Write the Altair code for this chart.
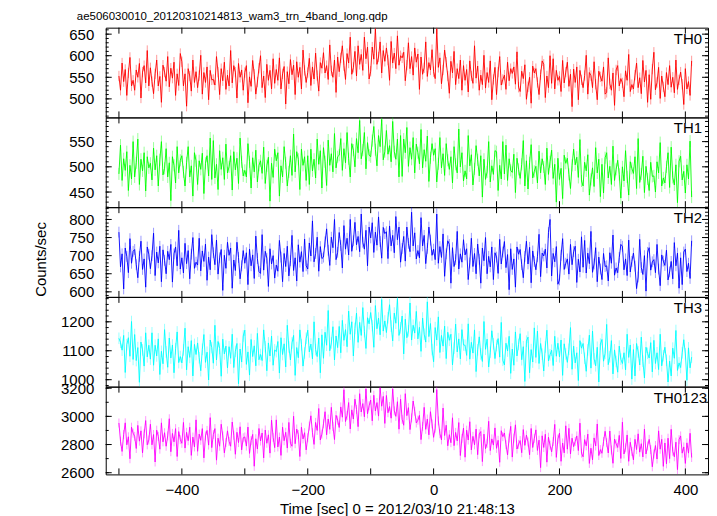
import altair as alt
import pandas as pd

# ---------------- data (2.5 s bins) ----------------
TIME = [-500 + 2.5 * k for k in range(365)]

TH0 = [
    553, 520, 583, 540, 568, 508, 560, 596, 530, 543,
    520, 567, 550, 582, 502, 562, 577, 537, 612, 530,
    572, 540, 512, 558, 590, 530, 552, 492, 578, 562,
    541, 598, 528, 571, 548, 585, 508, 558, 531, 605,
    586, 530, 558, 483, 570, 553, 518, 590, 538, 563,
    526, 554, 601, 511, 561, 538, 574, 498, 566, 544,
    545, 532, 598, 562, 510, 570, 542, 585, 522, 555,
    530, 612, 537, 577, 562, 502, 582, 550, 567, 520,
    561, 577, 491, 551, 529, 589, 557, 511, 539, 571,
    600, 526, 553, 503, 580, 543, 566, 523, 593, 536,
    568, 543, 595, 523, 558, 575, 488, 563, 535, 591,
    556, 578, 510, 586, 550, 573, 523, 613, 566, 538,
    561, 594, 531, 574, 546, 606, 554, 518, 584, 571,
    607, 560, 577, 545, 625, 565, 550, 590, 515, 597,
    563, 595, 623, 577, 545, 605, 583, 643, 557, 573,
    610, 553, 623, 580, 603, 566, 643, 593, 620, 546,
    564, 620, 592, 662, 580, 597, 632, 560, 612, 587,
    618, 590, 543, 633, 583, 606, 570, 646, 578, 600,
    595, 608, 542, 578, 630, 570, 598, 555, 618, 585,
    604, 522, 597, 557, 572, 632, 552, 584, 567, 614,
    563, 547, 662, 573, 595, 535, 567, 613, 585, 553,
    513, 587, 560, 610, 533, 570, 547, 590, 520, 577,
    543, 568, 516, 588, 553, 536, 623, 548, 576, 520,
    555, 533, 601, 525, 561, 538, 588, 498, 545, 573,
    510, 562, 598, 532, 545, 555, 522, 585, 542, 570,
    559, 574, 534, 609, 527, 517, 564, 547, 579, 499,
    528, 550, 490, 576, 560, 570, 538, 510, 556, 588,
    580, 503, 553, 526, 600, 536, 593, 523, 566, 543,
    552, 517, 589, 537, 562, 585, 529, 557, 482, 569,
    538, 574, 498, 566, 544, 526, 554, 601, 511, 561,
    554, 526, 586, 534, 498, 564, 551, 541, 574, 511,
    515, 595, 535, 520, 560, 485, 567, 577, 530, 547,
    537, 505, 565, 543, 603, 517, 533, 523, 555, 583,
    526, 549, 512, 589, 539, 566, 492, 556, 499, 569,
    608, 521, 538, 573, 501, 553, 528, 505, 561, 533,
    577, 527, 550, 514, 590, 522, 544, 562, 534, 487,
    570, 523, 540, 508, 588,
]
TH1 = [
    486, 543, 473, 516, 493, 530, 453, 503, 476, 550,
    480, 508, 555, 465, 515, 492, 528, 452, 520, 498,
    507, 474, 537, 494, 522, 462, 514, 550, 484, 497,
    536, 480, 508, 433, 520, 503, 468, 540, 488, 513,
    522, 490, 462, 508, 540, 480, 502, 442, 528, 512,
    465, 512, 495, 527, 447, 507, 522, 482, 557, 475,
    552, 478, 505, 455, 532, 495, 518, 475, 545, 488,
    500, 522, 454, 530, 494, 517, 467, 557, 510, 482,
    493, 480, 546, 510, 458, 518, 490, 533, 470, 503,
    512, 487, 539, 467, 502, 519, 432, 507, 479, 535,
    512, 528, 442, 502, 480, 540, 508, 462, 490, 522,
    483, 565, 490, 530, 515, 455, 535, 503, 520, 473,
    522, 465, 535, 492, 515, 478, 555, 505, 532, 458,
    538, 510, 463, 553, 503, 526, 490, 566, 498, 520,
    523, 556, 493, 536, 508, 568, 516, 480, 546, 533,
    500, 556, 528, 592, 516, 533, 568, 496, 548, 523,
    520, 552, 580, 534, 502, 562, 540, 594, 514, 530,
    572, 525, 542, 510, 590, 530, 515, 555, 480, 562,
    481, 555, 528, 578, 501, 538, 515, 558, 488, 545,
    528, 506, 574, 498, 534, 511, 561, 471, 518, 546,
    523, 536, 470, 506, 558, 498, 526, 483, 546, 513,
    495, 520, 468, 540, 505, 488, 575, 500, 528, 472,
    492, 476, 562, 502, 524, 464, 496, 542, 514, 482,
    522, 440, 515, 475, 490, 550, 470, 502, 485, 532,
    530, 453, 503, 476, 550, 486, 543, 473, 516, 493,
    489, 525, 449, 517, 495, 477, 505, 552, 462, 512,
    456, 508, 544, 478, 491, 501, 468, 531, 488, 516,
    500, 465, 537, 485, 510, 533, 477, 505, 430, 517,
    475, 497, 437, 523, 507, 517, 485, 457, 503, 535,
    504, 519, 479, 554, 472, 462, 509, 492, 524, 444,
    475, 498, 461, 538, 488, 515, 441, 505, 448, 518,
    528, 478, 501, 465, 541, 473, 495, 513, 485, 438,
    500, 472, 532, 480, 444, 510, 497, 487, 520, 457,
    556, 469, 486, 521, 449, 501, 476, 453, 509, 481,
    482, 450, 510, 488, 548, 462, 478, 468, 500, 528,
    459, 539, 479, 464, 504, 429, 511, 521, 474, 491,
    448, 504, 476, 551, 440,
]
TH2 = [
    765, 669, 705, 608, 721, 698, 653, 747, 679, 712,
    717, 675, 639, 698, 740, 662, 691, 613, 724, 704,
    664, 700, 762, 645, 710, 680, 726, 628, 716, 687,
    650, 712, 689, 731, 627, 705, 724, 672, 770, 663,
    694, 652, 734, 678, 714, 636, 704, 750, 665, 682,
    674, 748, 658, 713, 684, 732, 632, 696, 661, 758,
    708, 675, 743, 649, 694, 717, 604, 701, 665, 737,
    701, 721, 610, 688, 659, 737, 695, 636, 672, 714,
    679, 708, 620, 718, 672, 702, 637, 754, 692, 656,
    651, 758, 660, 712, 693, 615, 719, 677, 700, 638,
    674, 657, 742, 696, 628, 706, 670, 726, 644, 686,
    756, 659, 694, 630, 730, 682, 711, 656, 746, 672,
    663, 735, 699, 796, 683, 706, 751, 657, 725, 692,
    696, 738, 774, 715, 673, 751, 722, 800, 689, 709,
    764, 728, 666, 783, 718, 748, 702, 800, 712, 741,
    792, 730, 753, 711, 815, 737, 718, 770, 672, 779,
    749, 791, 709, 765, 729, 807, 739, 693, 778, 761,
    766, 692, 782, 727, 756, 708, 808, 744, 779, 682,
    720, 753, 685, 779, 734, 711, 820, 727, 763, 691,
    714, 694, 805, 727, 756, 678, 720, 779, 743, 701,
    718, 689, 815, 679, 725, 695, 760, 643, 705, 741,
    731, 624, 722, 670, 689, 767, 663, 705, 682, 744,
    702, 719, 634, 680, 748, 670, 706, 650, 732, 690,
    624, 721, 686, 750, 650, 698, 669, 724, 634, 708,
    696, 651, 745, 677, 710, 739, 667, 703, 606, 719,
    662, 691, 613, 724, 704, 717, 675, 639, 698, 740,
    677, 723, 625, 713, 684, 661, 697, 759, 642, 707,
    699, 718, 666, 764, 800, 644, 706, 683, 725, 621,
    633, 701, 747, 662, 679, 691, 649, 731, 675, 711,
    726, 626, 690, 655, 752, 668, 742, 652, 707, 678,
    767, 654, 677, 722, 628, 696, 663, 634, 706, 670,
    672, 630, 708, 679, 757, 646, 666, 653, 695, 731,
    726, 661, 691, 645, 743, 655, 684, 707, 671, 609,
    641, 745, 667, 648, 700, 602, 709, 722, 660, 683,
    689, 653, 731, 663, 617, 702, 685, 673, 715, 633,
    655, 684, 636, 736, 672, 707, 610, 694, 620, 710,
    718, 656, 679, 637, 741,
]
TH3 = [
    1143, 1129, 1102, 1153, 1025, 1121, 1145, 1081, 1201, 1070,
    1156, 1066, 1111, 991, 1130, 1103, 1047, 1162, 1079, 1119,
    1071, 1162, 1050, 1119, 1082, 1141, 1018, 1098, 1055, 1173,
    1096, 1043, 1144, 1075, 1120, 1024, 1107, 1165, 1059, 1080,
    1058, 1103, 1178, 1034, 1114, 1077, 1135, 1013, 1122, 1087,
    1127, 1076, 1031, 1105, 1156, 1060, 1095, 999, 1137, 1111,
    1057, 1188, 1068, 1132, 1108, 1012, 1140, 1089, 1116, 1041,
    1114, 1074, 1157, 1042, 1098, 1125, 986, 1106, 1061, 1151,
    1171, 1053, 1096, 1016, 1139, 1080, 1117, 1048, 1160, 1069,
    1087, 1066, 1172, 1114, 1031, 1127, 1082, 1151, 1050, 1103,
    1097, 1132, 1023, 1145, 1087, 1124, 1044, 1188, 1113, 1068,
    1127, 1153, 1015, 1111, 1076, 1172, 1121, 1047, 1092, 1143,
    1171, 1096, 1123, 1072, 1200, 1104, 1080, 1144, 1024, 1155,
    1074, 1164, 1119, 1239, 1100, 1127, 1183, 1068, 1151, 1111,
    1184, 1093, 1205, 1136, 1173, 1114, 1237, 1157, 1200, 1082,
    1177, 1230, 1129, 1198, 1153, 1249, 1166, 1108, 1214, 1193,
    1232, 1187, 1112, 1256, 1176, 1213, 1155, 1277, 1168, 1203,
    1163, 1214, 1259, 1185, 1134, 1230, 1195, 1280, 1153, 1179,
    1220, 1089, 1209, 1145, 1169, 1265, 1137, 1188, 1161, 1236,
    1141, 1181, 1098, 1213, 1157, 1130, 1269, 1149, 1194, 1104,
    1062, 1180, 1137, 1217, 1094, 1153, 1116, 1185, 1073, 1164,
    1136, 1157, 1051, 1109, 1192, 1096, 1141, 1072, 1173, 1120,
    1119, 1084, 1193, 1071, 1129, 1092, 1172, 1028, 1103, 1148,
    1089, 1063, 1201, 1105, 1140, 1044, 1095, 1169, 1124, 1073,
    1118, 1142, 1078, 1198, 1067, 1051, 1126, 1099, 1150, 1022,
    1106, 1050, 1165, 1082, 1122, 1159, 1069, 1114, 994, 1133,
    1147, 1024, 1104, 1061, 1179, 1077, 1168, 1056, 1125, 1088,
    1030, 1113, 1171, 1065, 1086, 1102, 1049, 1150, 1081, 1126,
    1079, 1137, 1015, 1124, 1089, 1060, 1105, 1180, 1036, 1116,
    1058, 1093, 997, 1135, 1109, 1125, 1074, 1029, 1103, 1154,
    1040, 1168, 1072, 1048, 1112, 992, 1123, 1139, 1064, 1091,
    1191, 1052, 1079, 1135, 1020, 1103, 1063, 1026, 1116, 1071,
    1056, 1093, 1034, 1157, 1077, 1120, 1002, 1104, 1013, 1125,
    1096, 1051, 1147, 1064, 1006, 1112, 1091, 1075, 1128, 1027,
    1136, 1056, 1093, 1035, 1157, 1048, 1083, 1112, 1067, 992,
    1064, 1013, 1109, 1074, 1170, 1032, 1058, 1042, 1093, 1138,
    1089, 998, 1110, 1041, 1078,
]
TH0123 = [
    2953, 2824, 2751, 2871, 2954, 2798, 2855, 2699, 2923, 2881,
    2858, 2772, 2936, 2824, 2897, 2741, 2876, 2970, 2798, 2832,
    2944, 2798, 2871, 2676, 2902, 2858, 2767, 2954, 2819, 2884,
    2788, 2861, 2983, 2749, 2879, 2819, 2913, 2715, 2892, 2835,
    2809, 2957, 2775, 2887, 2827, 2923, 2723, 2853, 2783, 2975,
    2752, 2874, 2830, 2913, 2705, 2861, 2900, 2796, 2991, 2778,
    2871, 2913, 2689, 2845, 2788, 2944, 2861, 2741, 2814, 2897,
    2822, 2788, 2960, 2866, 2731, 2887, 2814, 2926, 2762, 2848,
    2854, 2789, 2924, 2737, 2828, 2872, 2646, 2841, 2768, 2914,
    2825, 2882, 2705, 2903, 2809, 2869, 2739, 2973, 2851, 2778,
    2975, 2783, 2853, 2723, 2923, 2827, 2887, 2775, 2957, 2809,
    2788, 3001, 2806, 2910, 2871, 2715, 2923, 2840, 2884, 2762,
    2848, 2931, 3004, 2884, 2801, 2957, 2900, 3056, 2832, 2874,
    2947, 3033, 2869, 2981, 2908, 3064, 2929, 2835, 3007, 2973,
    2921, 3067, 2994, 3189, 2963, 3007, 3098, 2911, 3046, 2981,
    3122, 3049, 2927, 3161, 3031, 3091, 2997, 3195, 3018, 3075,
    3116, 2968, 3150, 3038, 3098, 3002, 3202, 3072, 3142, 2950,
    3148, 3026, 3070, 2987, 3195, 3039, 3000, 3104, 2909, 3122,
    2979, 2937, 3161, 3005, 3062, 2906, 2989, 3109, 3036, 2953,
    2973, 3007, 2835, 2929, 3064, 2908, 2981, 2869, 3033, 2947,
    2851, 2916, 3190, 2968, 2877, 2833, 3059, 2864, 2937, 2791,
    2870, 2813, 2990, 2792, 2886, 2826, 2956, 2722, 2844, 2917,
    2710, 2902, 2832, 2962, 2762, 2858, 2798, 2910, 2728, 2876,
    2892, 2679, 2874, 2770, 2809, 2965, 2757, 2840, 2796, 2918,
    2773, 2830, 2674, 2898, 2856, 2882, 2799, 2726, 2846, 2929,
    2711, 2846, 2940, 2768, 2802, 2828, 2742, 2906, 2794, 2867,
    2818, 2727, 2914, 2779, 2844, 2904, 2758, 2831, 2636, 2862,
    2779, 2873, 2675, 2852, 2795, 2748, 2821, 2943, 2709, 2839,
    2881, 2681, 2811, 2741, 2933, 2767, 2915, 2733, 2845, 2785,
    2822, 2861, 2757, 2952, 2739, 2713, 2835, 2791, 2874, 2666,
    2774, 2691, 2847, 2790, 2946, 2722, 2764, 2738, 2821, 2894,
    2813, 2740, 2896, 2761, 2667, 2839, 2805, 2779, 2865, 2701,
    2959, 2733, 2777, 2868, 2681, 2816, 2751, 2691, 2837, 2764,
    2876, 2746, 2806, 2712, 2910, 2733, 2790, 2837, 2764, 2642,
    2733, 2793, 2697, 2897, 2767, 2837, 2645, 2811, 2663, 2845,
    2700, 2908, 2752, 2713, 2817, 2622, 2835, 2861, 2739, 2783,
    2666, 2812, 2739, 2880, 2708,
]

SERIES = [TH0, TH1, TH2, TH3, TH0123]
BANDS = ["TH0", "TH1", "TH2", "TH3", "TH0123"]
COLORS = ["#ff0000", "#00ff00", "#0000ff", "#00ffff", "#ff00ff"]
ERRORS = [12, 12, 15, 20, 32]
Y_DOMAINS = [[457, 665], [420, 598], [586, 834], [976, 1286], [2588, 3211]]
Y_LABELS = [
    [500, 550, 600, 650],
    [450, 500, 550],
    [600, 650, 700, 750, 800],
    [1000, 1100, 1200],
    [2600, 2800, 3000, 3200],
]
Y_MINOR = [
    list(range(460, 661, 10)),
    list(range(420, 591, 10)),
    list(range(590, 831, 10)),
    list(range(980, 1281, 20)),
    list(range(2600, 3201, 100)),
]
X_DOMAIN = [-521, 436]
X_TICKS = list(range(-500, 401, 100))
X_LABELS = [-400, -200, 0, 200, 400]
TITLE = "ae506030010_20120310214813_wam3_trn_4band_long.qdp"
X_TITLE = "Time [sec] 0 = 2012/03/10 21:48:13"
Y_TITLE = "Counts/sec"

W = 604
HEIGHTS = [90, 90, 90, 90, 88]
FONT = "Liberation Sans"


def panel(i):
    H = HEIGHTS[i]
    last = i == len(SERIES) - 1
    xs = alt.Scale(domain=X_DOMAIN, nice=False, zero=False)
    ys = alt.Scale(domain=Y_DOMAINS[i], nice=False, zero=False)
    if last:
        xaxis = alt.Axis(values=X_LABELS, ticks=False, domain=False, grid=False,
                         labelPadding=8, title=X_TITLE, titlePadding=4,
                         titleX=W / 2 - 10, titleAlign="center")
    else:
        xaxis = None
    if i == 2:
        yaxis = alt.Axis(values=Y_LABELS[i], ticks=False, domain=False, grid=False,
                         labelPadding=12, format="d", title=Y_TITLE,
                         titlePadding=20, titleY=H / 2 + 7, titleAlign="center")
    else:
        yaxis = alt.Axis(values=Y_LABELS[i], ticks=False, domain=False, grid=False,
                         labelPadding=12, format="d", title=None)

    df = pd.DataFrame({"t": TIME, "v": SERIES[i]})
    base = alt.Chart(df)
    err = base.transform_calculate(
        lo=f"datum.v - {ERRORS[i]}", hi=f"datum.v + {ERRORS[i]}"
    ).mark_rule(color=COLORS[i], opacity=0.4, strokeWidth=1, clip=True).encode(
        x=alt.X("t:Q", scale=xs, axis=xaxis),
        y=alt.Y("lo:Q", scale=ys, axis=yaxis),
        y2="hi:Q",
    )
    line = base.mark_line(color=COLORS[i], strokeWidth=0.9, clip=True).encode(
        x=alt.X("t:Q", scale=xs, axis=xaxis),
        y=alt.Y("v:Q", scale=ys, axis=yaxis),
    )

    xt = alt.Chart(pd.DataFrame({"t": X_TICKS}))
    top_t = xt.mark_rule(color="black", strokeWidth=1).encode(
        x=alt.X("t:Q", scale=xs, axis=xaxis), y=alt.value(0), y2=alt.value(6))
    bot_t = xt.mark_rule(color="black", strokeWidth=1).encode(
        x=alt.X("t:Q", scale=xs, axis=xaxis), y=alt.value(H), y2=alt.value(H - 6))

    ymaj = alt.Chart(pd.DataFrame({"v": Y_LABELS[i]}))
    ymin = alt.Chart(pd.DataFrame({"v": Y_MINOR[i]}))
    lmaj = ymaj.mark_rule(color="black", strokeWidth=1).encode(
        y=alt.Y("v:Q", scale=ys, axis=yaxis), x=alt.value(0), x2=alt.value(6))
    rmaj = ymaj.mark_rule(color="black", strokeWidth=1).encode(
        y=alt.Y("v:Q", scale=ys, axis=yaxis), x=alt.value(W), x2=alt.value(W - 6))
    lmin = ymin.mark_rule(color="black", strokeWidth=1).encode(
        y=alt.Y("v:Q", scale=ys, axis=yaxis), x=alt.value(0), x2=alt.value(3))
    rmin = ymin.mark_rule(color="black", strokeWidth=1).encode(
        y=alt.Y("v:Q", scale=ys, axis=yaxis), x=alt.value(W), x2=alt.value(W - 3))

    lab = alt.Chart(pd.DataFrame({"name": [BANDS[i]]})).mark_text(
        align="right", baseline="alphabetic", fontSize=15, font=FONT, color="black"
    ).encode(
        text="name:N",
        x=alt.value(W - 1 if last else W - 6),
        y=alt.value(16),
    )

    return alt.layer(err, line, top_t, bot_t, lmaj, rmaj, lmin, rmin, lab).properties(
        width=W, height=H)


chart = alt.vconcat(*[panel(i) for i in range(5)], spacing=0, bounds="flush").properties(
    title=alt.TitleParams(text=TITLE, anchor="start", frame="group", fontSize=11.5,
                          fontWeight="normal", font=FONT, color="black", dx=-29, offset=4),
    padding={"left": 25, "top": 2, "right": 0, "bottom": 0},
).configure_view(
    stroke="black", strokeWidth=1
).configure_axis(
    labelFont=FONT, labelFontSize=15, labelColor="black",
    titleFont=FONT, titleFontSize=15, titleFontWeight="normal", titleColor="black",
)

chart.save("out.html", embed_options={"renderer": "svg", "actions": False})
